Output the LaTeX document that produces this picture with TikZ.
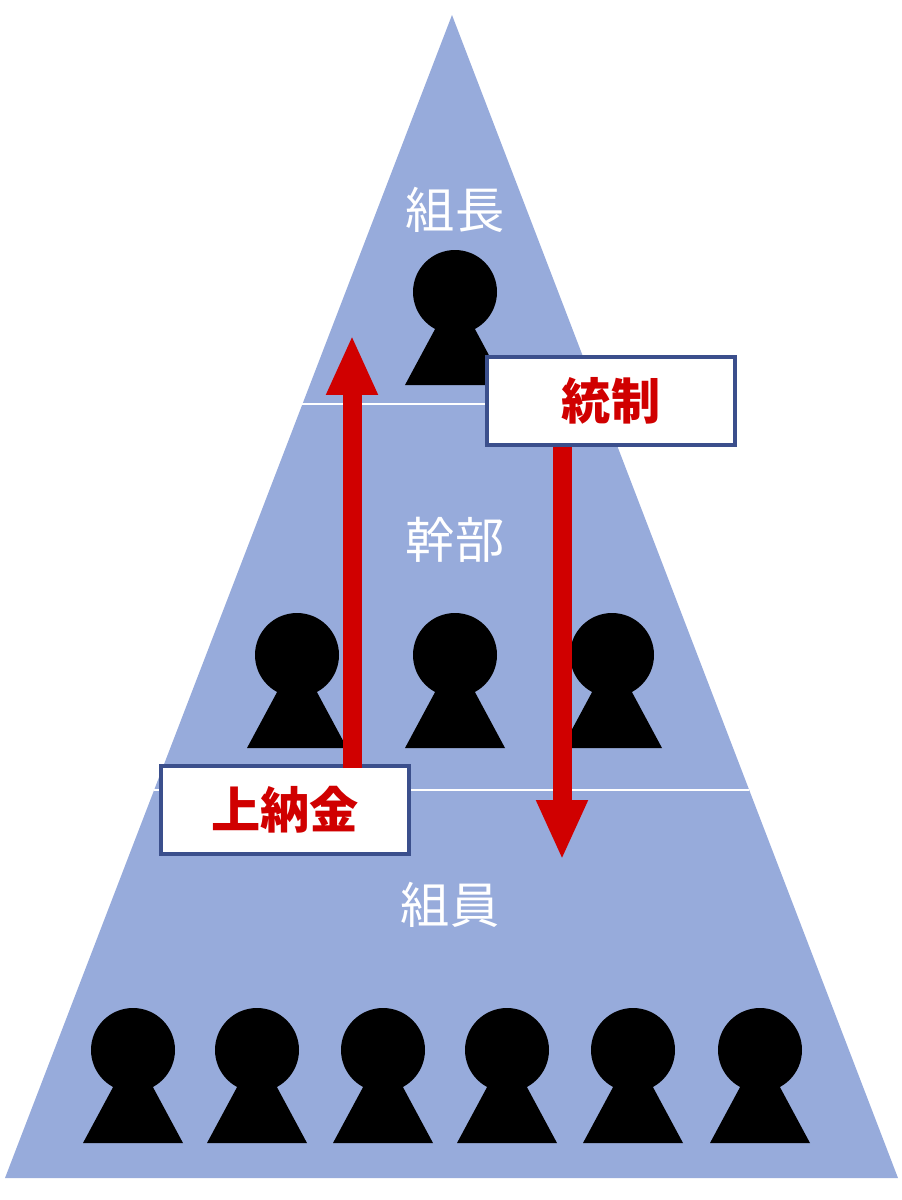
\documentclass[tikz,border=0pt]{standalone}
\usepackage{fontspec}
\newfontfamily\cjk{Noto Sans CJK JP}
\usetikzlibrary{positioning}
\definecolor{pyramid}{HTML}{97ABDB}
\definecolor{arrowred}{HTML}{D00000}
\definecolor{boxline}{HTML}{3B4F8C}
\tikzset{
  rank/.style={text=white, font=\cjk\fontsize{28}{30}\selectfont},
  tag/.style={draw=boxline, line width=2.2pt, fill=white, text=arrowred,
    font=\cjk\bfseries\fontsize{28}{30}\selectfont, minimum width=4.96cm, minimum height=1.76cm},
  flow/.style={arrowred, line width=0.38cm, -{Triangle[width=0.95cm,length=1.2cm]}}
}
\usetikzlibrary{arrows.meta}
\newcommand{\person}[2]{%
  \fill (#1-50,#2+93) -- (#1+50,#2+93) -- (#1,#2) -- cycle;
  \fill (#1,#2) circle (42);
}
\begin{document}
\begin{tikzpicture}[x=0.02cm, y=-0.02cm]
  \useasboundingbox (0,0) rectangle (902,1200);
  % pyramid
  \fill[pyramid] (452,15) -- (898,1178) -- (5,1178) -- cycle;
  \draw[white, line width=1pt] (302,404) -- (601,404);
  \draw[white, line width=1pt] (154,790) -- (749,790);
  % people
  \person{455}{292}
  \foreach \px in {297,455,612}{ \person{\px}{655} }
  \foreach \px in {133,257,383,507,633,760}{ \person{\px}{1050} }
  % ranks
  \node[rank] (boss) at (455,210) {組長};
  \node[rank] (exec) at (455,540) {幹部};
  \node[rank] (member) at (450,905) {組員};
  % tags and arrows
  \node[tag] (tribute) at (285,810) {上納金};
  \node[tag] (control) at (611,401) {統制};
  \coordinate (uptip) at (352,335);
  \coordinate (downtip) at (562,860);
  \draw[flow] (352,768) -- (uptip);
  \draw[flow] (control.south -| downtip) -- (downtip);
\end{tikzpicture}
\end{document}
